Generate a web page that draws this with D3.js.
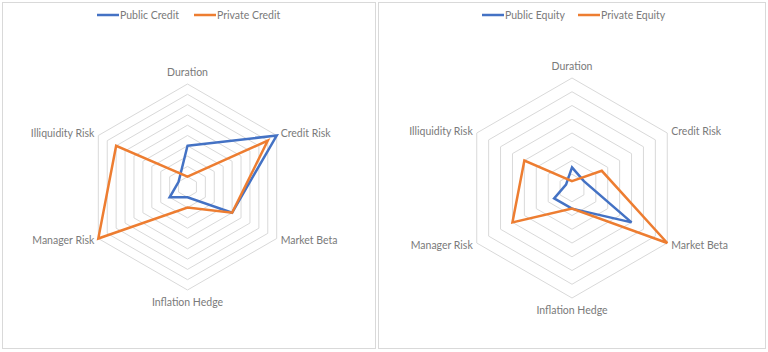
<!DOCTYPE html>
<html>
<head>
<meta charset="utf-8">
<script src="https://cdn.jsdelivr.net/npm/d3@7/dist/d3.min.js"></script>
<style>
  body { margin: 0; background: #fff; }
  text { font-family: Lato, "Open Sans", sans-serif; fill: #7a7a7a; font-size: 10.5px; }
</style>
</head>
<body>
<svg class="radar" width="768" height="352"></svg>
<script>
var dims = ["Duration", "Credit Risk", "Market Beta", "Inflation Hedge", "Manager Risk", "Illiquidity Risk"];

var creditNames = ["Public Credit", "Private Credit"];
var publicCredit = [4, 10, 5, 1, 2, 1];
var privateCredit = [1, 9, 5, 2, 10, 8];

var equityNames = ["Public Equity", "Private Equity"];
var publicEquity = [1.5, 1, 5, 1.5, 1.5, 0.5];
var privateEquity = [0.5, 2.5, 8, 1.5, 5, 4];

var colors = ["#4472C4", "#ED7D31"];

var svg = d3.select('.radar');

function radar(opt) {
  var g = svg.append('g');

  // panel frame
  g.append('rect')
    .attr('x', opt.px + 0.5).attr('y', 2.5)
    .attr('width', opt.pw).attr('height', 346)
    .attr('fill', 'none').attr('stroke', '#d9d9d9');

  var r = d3.scaleLinear().domain([0, opt.max]).range([0, opt.rad]);
  var angle = d3.scalePoint().domain(dims).range([0, 2 * Math.PI * 5 / 6]);

  var chart = g.append('g').attr('transform', 'translate(' + opt.cx + ',' + opt.cy + ')');

  var radial = d3.lineRadial()
    .angle(function(d, i) { return angle(dims[i]); })
    .curve(d3.curveLinearClosed);

  // rings
  chart.selectAll('path.ring')
    .data(d3.range(1, opt.max + 1))
    .enter().append('path')
    .attr('class', 'ring')
    .attr('d', function(k) { return radial.radius(r(k))(dims); })
    .attr('fill', 'none').attr('stroke', '#d9d9d9').attr('stroke-width', 1);

  // series
  chart.selectAll('path.series')
    .data(opt.series)
    .enter().append('path')
    .attr('class', 'series')
    .attr('d', function(s) { return radial.radius(function(d, i) { return r(s[i]); })(s); })
    .attr('fill', 'none')
    .attr('stroke', function(d, i) { return colors[i]; })
    .attr('stroke-width', 2.5)
    .attr('stroke-linejoin', 'miter');

  // axis labels
  chart.selectAll('text.lbl')
    .data(dims)
    .enter().append('text')
    .attr('class', 'lbl')
    .attr('x', function(d) {
      var a = angle(d), s = Math.sin(a);
      var x = r(opt.max) * s;
      if (Math.abs(s) < 0.01) return x;
      return s > 0 ? x + 4 : x - 4;
    })
    .attr('y', function(d) {
      var a = angle(d), c = -Math.cos(a);
      var y = r(opt.max) * c;
      if (Math.abs(Math.sin(a)) < 0.01) return y + (c < 0 ? -12 : 12);
      return c < 0 ? y - 2 : y + 2;
    })
    .attr('dy', '0.35em')
    .attr('text-anchor', function(d) {
      var s = Math.sin(angle(d));
      if (Math.abs(s) < 0.01) return 'middle';
      return s > 0 ? 'start' : 'end';
    })
    .text(function(d) { return d; });

  // legend
  var leg = g.selectAll('g.leg')
    .data(opt.names)
    .enter().append('g')
    .attr('class', 'leg')
    .attr('transform', function(d, i) { return 'translate(' + opt.legX[i] + ',15)'; });
  leg.append('line')
    .attr('x1', 0).attr('x2', 22)
    .attr('stroke', function(d, i) { return colors[i]; })
    .attr('stroke-width', 2.5);
  leg.append('text')
    .attr('x', 23).attr('dy', '0.35em')
    .text(function(d) { return d; });
}

radar({ px: 2, pw: 373, cx: 187.5, cy: 187, rad: 103, max: 10,
  series: [publicCredit, privateCredit], names: creditNames, legX: [97, 194] });
radar({ px: 378, pw: 387, cx: 572, cy: 188, rad: 110, max: 8,
  series: [publicEquity, privateEquity], names: equityNames, legX: [482, 578] });
</script>
</body>
</html>
